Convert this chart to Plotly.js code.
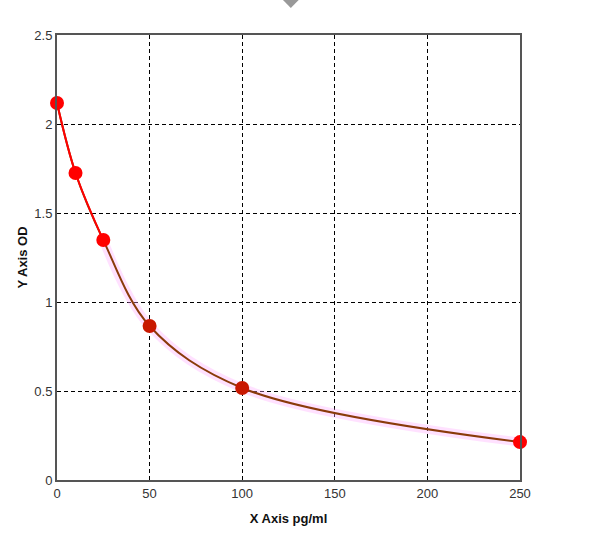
<!DOCTYPE html>
<html><head><meta charset="utf-8">
<script src="https://cdn.plot.ly/plotly-3.0.1.min.js"></script>
<style>html,body{margin:0;padding:0;background:#fff;}#chart{width:597px;height:540px;}</style>
</head><body><div id="chart"></div>
<script>
const concentration = [0, 10, 25, 50, 100, 250];
const od = [2.118, 1.725, 1.348, 0.865, 0.517, 0.213];
const xTicks = [0, 50, 100, 150, 200, 250];
const yTicks = [0, 0.5, 1, 1.5, 2, 2.5];
const upperCount = 3;

const halo = {x: concentration.slice(2), y: od.slice(2), mode: 'lines', line: {shape: 'spline', color: 'rgba(255,170,255,0.35)', width: 9}, hoverinfo: 'skip'};
const curve = {x: concentration, y: od, mode: 'lines', line: {shape: 'spline', color: '#8a3a0a', width: 2}, hoverinfo: 'skip'};
const upper = {x: concentration.slice(0, upperCount), y: od.slice(0, upperCount), mode: 'lines', line: {shape: 'spline', color: '#ff0000', width: 2}, hoverinfo: 'skip'};
const pts = {x: concentration, y: od, mode: 'markers', cliponaxis: false,
  marker: {size: 14, color: ['#ff0000','#ff0000','#ff0000','#c81800','#c81800','#ff0000'], line: {width: 0}}};

const layout = {
  width: 597, height: 540,
  margin: {l: 57, r: 77, t: 35, b: 60},
  paper_bgcolor: '#fff', plot_bgcolor: '#fff',
  showlegend: false,
  font: {family: 'Liberation Sans, Arial, sans-serif', size: 13, color: '#333'},
  xaxis: {range: [0, 250], tickvals: xTicks, ticktext: xTicks.map(String), showgrid: true, gridcolor: '#000', griddash: '4px,3px', gridwidth: 1,
    zeroline: false, showline: true, linecolor: '#555', linewidth: 2, mirror: true, ticks: '', ticklen: 0,
    title: {text: '<b>X Axis pg/ml</b>', font: {size: 13, color: '#111'}, standoff: 14}},
  yaxis: {range: [0, 2.5], tickvals: yTicks, ticktext: yTicks.map(String), showgrid: true, gridcolor: '#000', griddash: '4px,3px', gridwidth: 1,
    zeroline: false, showline: true, linecolor: '#555', linewidth: 2, mirror: true, ticks: '', ticklen: 0,
    title: {text: '<b>Y Axis OD</b>', font: {size: 13, color: '#111'}, standoff: 4}},
  shapes: [{type: 'path', xref: 'paper', yref: 'paper',
    path: 'M 0.488,1.0787 L 0.522,1.0787 L 0.505,1.0605 Z', fillcolor: '#999', line: {width: 0}}]
};

Plotly.newPlot('chart', [halo, curve, upper, pts], layout, {displayModeBar: false, staticPlot: true});
</script></body></html>
